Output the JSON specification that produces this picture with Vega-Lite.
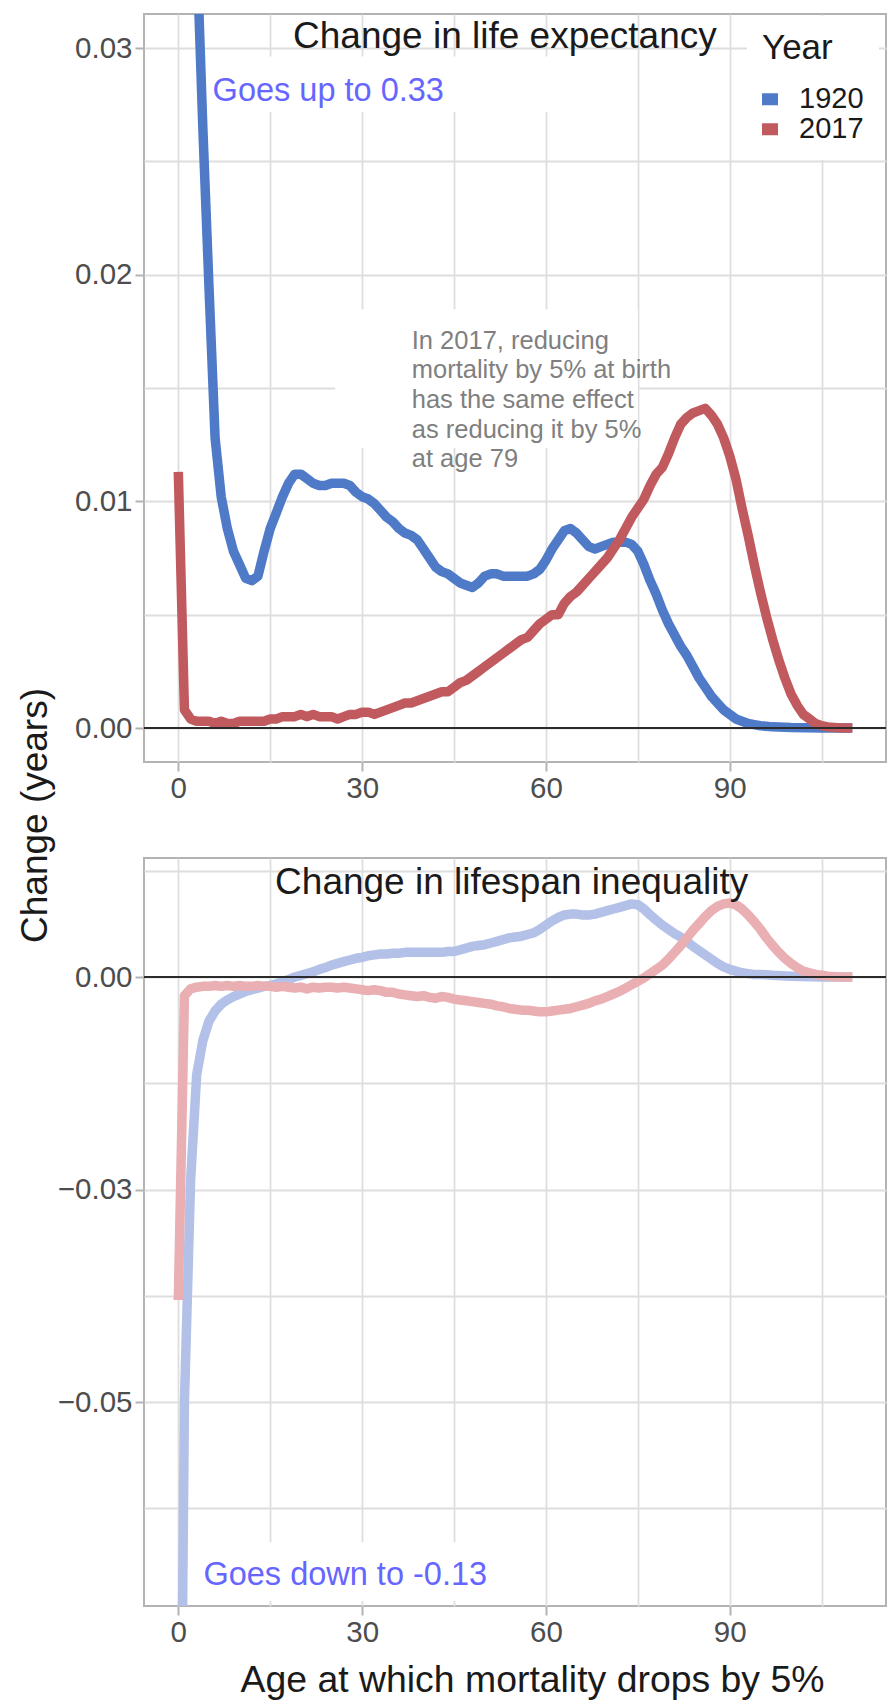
{
  "$schema": "https://vega.github.io/schema/vega-lite/v6.json",
  "background": "white",
  "padding": {"left": 15, "top": 13, "right": 3, "bottom": 4},
  "config": {
    "font": "Liberation Sans",
    "view": {"stroke": "#B3B3B3", "strokeWidth": 2},
    "axis": {
      "domain": false,
      "labelFont": "Liberation Sans",
      "labelFontSize": 29.5,
      "labelColor": "#4D4D4D",
      "tickColor": "#B3B3B3",
      "tickWidth": 2,
      "tickSize": 9,
      "gridColor": "#DEDEDE",
      "gridWidth": 1.8,
      "titleFont": "Liberation Sans",
      "titleFontWeight": "normal",
      "titleColor": "#1A1A1A",
      "titleFontSize": 37.4,
      "labelOverlap": false,
      "labelFlush": false
    }
  },
  "datasets": {
    "le": [
      {"year":"1920","age":0,"value":0.33},{"year":"1920","age":1,"value":0.1},{"year":"1920","age":2,"value":0.05},{"year":"1920","age":3,"value":0.0345},{"year":"1920","age":4,"value":0.0265},{"year":"1920","age":5,"value":0.0195},{"year":"1920","age":6,"value":0.0128},{"year":"1920","age":7,"value":0.0102},{"year":"1920","age":8,"value":0.0088},{"year":"1920","age":9,"value":0.0078},{"year":"1920","age":10,"value":0.0072},{"year":"1920","age":11,"value":0.0066},{"year":"1920","age":12,"value":0.0065},{"year":"1920","age":13,"value":0.0067},{"year":"1920","age":14,"value":0.0078},{"year":"1920","age":15,"value":0.0088},{"year":"1920","age":16,"value":0.0095},{"year":"1920","age":17,"value":0.0102},{"year":"1920","age":18,"value":0.0108},{"year":"1920","age":19,"value":0.0112},{"year":"1920","age":20,"value":0.0112},{"year":"1920","age":21,"value":0.011},{"year":"1920","age":22,"value":0.0108},{"year":"1920","age":23,"value":0.0107},{"year":"1920","age":24,"value":0.0107},{"year":"1920","age":25,"value":0.0108},{"year":"1920","age":26,"value":0.0108},{"year":"1920","age":27,"value":0.0108},{"year":"1920","age":28,"value":0.0107},{"year":"1920","age":29,"value":0.0104},{"year":"1920","age":30,"value":0.0102},{"year":"1920","age":31,"value":0.0101},{"year":"1920","age":32,"value":0.0099},{"year":"1920","age":33,"value":0.0096},{"year":"1920","age":34,"value":0.0093},{"year":"1920","age":35,"value":0.0091},{"year":"1920","age":36,"value":0.0088},{"year":"1920","age":37,"value":0.0086},{"year":"1920","age":38,"value":0.0085},{"year":"1920","age":39,"value":0.0083},{"year":"1920","age":40,"value":0.0079},{"year":"1920","age":41,"value":0.0075},{"year":"1920","age":42,"value":0.0071},{"year":"1920","age":43,"value":0.0069},{"year":"1920","age":44,"value":0.0068},{"year":"1920","age":45,"value":0.0066},{"year":"1920","age":46,"value":0.0064},{"year":"1920","age":47,"value":0.0063},{"year":"1920","age":48,"value":0.0062},{"year":"1920","age":49,"value":0.0064},{"year":"1920","age":50,"value":0.0067},{"year":"1920","age":51,"value":0.0068},{"year":"1920","age":52,"value":0.0068},{"year":"1920","age":53,"value":0.0067},{"year":"1920","age":54,"value":0.0067},{"year":"1920","age":55,"value":0.0067},{"year":"1920","age":56,"value":0.0067},{"year":"1920","age":57,"value":0.0067},{"year":"1920","age":58,"value":0.0068},{"year":"1920","age":59,"value":0.007},{"year":"1920","age":60,"value":0.0074},{"year":"1920","age":61,"value":0.0079},{"year":"1920","age":62,"value":0.0083},{"year":"1920","age":63,"value":0.0087},{"year":"1920","age":64,"value":0.0088},{"year":"1920","age":65,"value":0.0086},{"year":"1920","age":66,"value":0.0083},{"year":"1920","age":67,"value":0.008},{"year":"1920","age":68,"value":0.0079},{"year":"1920","age":69,"value":0.008},{"year":"1920","age":70,"value":0.0081},{"year":"1920","age":71,"value":0.0082},{"year":"1920","age":72,"value":0.0082},{"year":"1920","age":73,"value":0.0082},{"year":"1920","age":74,"value":0.0081},{"year":"1920","age":75,"value":0.0078},{"year":"1920","age":76,"value":0.0072},{"year":"1920","age":77,"value":0.0065},{"year":"1920","age":78,"value":0.0059},{"year":"1920","age":79,"value":0.0052},{"year":"1920","age":80,"value":0.0046},{"year":"1920","age":81,"value":0.0041},{"year":"1920","age":82,"value":0.0036},{"year":"1920","age":83,"value":0.0032},{"year":"1920","age":84,"value":0.0027},{"year":"1920","age":85,"value":0.0022},{"year":"1920","age":86,"value":0.0018},{"year":"1920","age":87,"value":0.0014},{"year":"1920","age":88,"value":0.0011},{"year":"1920","age":89,"value":0.0008},{"year":"1920","age":90,"value":0.0006},{"year":"1920","age":91,"value":0.0004},{"year":"1920","age":92,"value":0.0003},{"year":"1920","age":93,"value":0.0002},{"year":"1920","age":94,"value":0.00015},{"year":"1920","age":95,"value":0.0001},{"year":"1920","age":97,"value":0.00005},{"year":"1920","age":100,"value":0.00002},{"year":"1920","age":105,"value":0},{"year":"1920","age":110,"value":0},
      {"year":"2017","age":0,"value":0.0113},{"year":"2017","age":1,"value":0.0008},{"year":"2017","age":2,"value":0.0004},{"year":"2017","age":3,"value":0.0003},{"year":"2017","age":4,"value":0.0003},{"year":"2017","age":5,"value":0.0003},{"year":"2017","age":6,"value":0.0002},{"year":"2017","age":7,"value":0.0003},{"year":"2017","age":8,"value":0.0002},{"year":"2017","age":9,"value":0.0002},{"year":"2017","age":10,"value":0.0003},{"year":"2017","age":11,"value":0.0003},{"year":"2017","age":12,"value":0.0003},{"year":"2017","age":13,"value":0.0003},{"year":"2017","age":14,"value":0.0003},{"year":"2017","age":15,"value":0.0004},{"year":"2017","age":16,"value":0.0004},{"year":"2017","age":17,"value":0.0005},{"year":"2017","age":18,"value":0.0005},{"year":"2017","age":19,"value":0.0005},{"year":"2017","age":20,"value":0.0006},{"year":"2017","age":21,"value":0.0005},{"year":"2017","age":22,"value":0.0006},{"year":"2017","age":23,"value":0.0005},{"year":"2017","age":24,"value":0.0005},{"year":"2017","age":25,"value":0.0005},{"year":"2017","age":26,"value":0.0004},{"year":"2017","age":27,"value":0.0005},{"year":"2017","age":28,"value":0.0006},{"year":"2017","age":29,"value":0.0006},{"year":"2017","age":30,"value":0.0007},{"year":"2017","age":31,"value":0.0007},{"year":"2017","age":32,"value":0.0006},{"year":"2017","age":33,"value":0.0007},{"year":"2017","age":34,"value":0.0008},{"year":"2017","age":35,"value":0.0009},{"year":"2017","age":36,"value":0.001},{"year":"2017","age":37,"value":0.0011},{"year":"2017","age":38,"value":0.0011},{"year":"2017","age":39,"value":0.0012},{"year":"2017","age":40,"value":0.0013},{"year":"2017","age":41,"value":0.0014},{"year":"2017","age":42,"value":0.0015},{"year":"2017","age":43,"value":0.0016},{"year":"2017","age":44,"value":0.0016},{"year":"2017","age":45,"value":0.0018},{"year":"2017","age":46,"value":0.002},{"year":"2017","age":47,"value":0.0021},{"year":"2017","age":48,"value":0.0023},{"year":"2017","age":49,"value":0.0025},{"year":"2017","age":50,"value":0.0027},{"year":"2017","age":51,"value":0.0029},{"year":"2017","age":52,"value":0.0031},{"year":"2017","age":53,"value":0.0033},{"year":"2017","age":54,"value":0.0035},{"year":"2017","age":55,"value":0.0037},{"year":"2017","age":56,"value":0.0039},{"year":"2017","age":57,"value":0.004},{"year":"2017","age":58,"value":0.0043},{"year":"2017","age":59,"value":0.0046},{"year":"2017","age":60,"value":0.0048},{"year":"2017","age":61,"value":0.005},{"year":"2017","age":62,"value":0.005},{"year":"2017","age":63,"value":0.0055},{"year":"2017","age":64,"value":0.0058},{"year":"2017","age":65,"value":0.006},{"year":"2017","age":66,"value":0.0063},{"year":"2017","age":67,"value":0.0066},{"year":"2017","age":68,"value":0.0069},{"year":"2017","age":69,"value":0.0072},{"year":"2017","age":70,"value":0.0075},{"year":"2017","age":71,"value":0.0079},{"year":"2017","age":72,"value":0.0083},{"year":"2017","age":73,"value":0.0088},{"year":"2017","age":74,"value":0.0093},{"year":"2017","age":75,"value":0.0097},{"year":"2017","age":76,"value":0.0101},{"year":"2017","age":77,"value":0.0107},{"year":"2017","age":78,"value":0.0112},{"year":"2017","age":79,"value":0.0115},{"year":"2017","age":80,"value":0.0121},{"year":"2017","age":81,"value":0.0128},{"year":"2017","age":82,"value":0.0134},{"year":"2017","age":83,"value":0.0137},{"year":"2017","age":84,"value":0.0139},{"year":"2017","age":85,"value":0.014},{"year":"2017","age":86,"value":0.0141},{"year":"2017","age":87,"value":0.0138},{"year":"2017","age":88,"value":0.0134},{"year":"2017","age":89,"value":0.0128},{"year":"2017","age":90,"value":0.012},{"year":"2017","age":91,"value":0.011},{"year":"2017","age":92,"value":0.0097},{"year":"2017","age":93,"value":0.0085},{"year":"2017","age":94,"value":0.0072},{"year":"2017","age":95,"value":0.006},{"year":"2017","age":96,"value":0.0049},{"year":"2017","age":97,"value":0.0039},{"year":"2017","age":98,"value":0.003},{"year":"2017","age":99,"value":0.0022},{"year":"2017","age":100,"value":0.0015},{"year":"2017","age":101,"value":0.001},{"year":"2017","age":102,"value":0.0006},{"year":"2017","age":103,"value":0.0004},{"year":"2017","age":104,"value":0.0002},{"year":"2017","age":105,"value":0.0001},{"year":"2017","age":106,"value":0.00005},{"year":"2017","age":108,"value":0},{"year":"2017","age":110,"value":0}
    ],
    "ineq": [
      {"year":"1920","age":0,"value":-0.13},{"year":"1920","age":1,"value":-0.05},{"year":"1920","age":2,"value":-0.024},{"year":"1920","age":3,"value":-0.0115},{"year":"1920","age":4,"value":-0.0075},{"year":"1920","age":5,"value":-0.0052},{"year":"1920","age":6,"value":-0.004},{"year":"1920","age":7,"value":-0.0032},{"year":"1920","age":8,"value":-0.0027},{"year":"1920","age":9,"value":-0.0023},{"year":"1920","age":10,"value":-0.002},{"year":"1920","age":11,"value":-0.0017},{"year":"1920","age":12,"value":-0.0015},{"year":"1920","age":13,"value":-0.0013},{"year":"1920","age":14,"value":-0.0011},{"year":"1920","age":15,"value":-0.001},{"year":"1920","age":16,"value":-0.0008},{"year":"1920","age":17,"value":-0.0005},{"year":"1920","age":18,"value":-0.0003},{"year":"1920","age":19,"value":0},{"year":"1920","age":20,"value":0.0002},{"year":"1920","age":21,"value":0.0004},{"year":"1920","age":22,"value":0.0006},{"year":"1920","age":23,"value":0.0009},{"year":"1920","age":24,"value":0.0011},{"year":"1920","age":25,"value":0.0014},{"year":"1920","age":26,"value":0.0016},{"year":"1920","age":27,"value":0.0018},{"year":"1920","age":28,"value":0.002},{"year":"1920","age":29,"value":0.0022},{"year":"1920","age":30,"value":0.0023},{"year":"1920","age":31,"value":0.0025},{"year":"1920","age":32,"value":0.0026},{"year":"1920","age":33,"value":0.0027},{"year":"1920","age":34,"value":0.0027},{"year":"1920","age":35,"value":0.0028},{"year":"1920","age":36,"value":0.0028},{"year":"1920","age":37,"value":0.0029},{"year":"1920","age":38,"value":0.0029},{"year":"1920","age":39,"value":0.0029},{"year":"1920","age":40,"value":0.0029},{"year":"1920","age":41,"value":0.0029},{"year":"1920","age":42,"value":0.0029},{"year":"1920","age":43,"value":0.0029},{"year":"1920","age":44,"value":0.003},{"year":"1920","age":45,"value":0.003},{"year":"1920","age":46,"value":0.0032},{"year":"1920","age":47,"value":0.0034},{"year":"1920","age":48,"value":0.0036},{"year":"1920","age":49,"value":0.0037},{"year":"1920","age":50,"value":0.0038},{"year":"1920","age":51,"value":0.004},{"year":"1920","age":52,"value":0.0042},{"year":"1920","age":53,"value":0.0044},{"year":"1920","age":54,"value":0.0046},{"year":"1920","age":55,"value":0.0047},{"year":"1920","age":56,"value":0.0048},{"year":"1920","age":57,"value":0.005},{"year":"1920","age":58,"value":0.0052},{"year":"1920","age":59,"value":0.0056},{"year":"1920","age":60,"value":0.0061},{"year":"1920","age":61,"value":0.0066},{"year":"1920","age":62,"value":0.007},{"year":"1920","age":63,"value":0.0073},{"year":"1920","age":64,"value":0.0074},{"year":"1920","age":65,"value":0.0074},{"year":"1920","age":66,"value":0.0073},{"year":"1920","age":67,"value":0.0073},{"year":"1920","age":68,"value":0.0074},{"year":"1920","age":69,"value":0.0076},{"year":"1920","age":70,"value":0.0078},{"year":"1920","age":71,"value":0.008},{"year":"1920","age":72,"value":0.0082},{"year":"1920","age":73,"value":0.0084},{"year":"1920","age":74,"value":0.0086},{"year":"1920","age":75,"value":0.0085},{"year":"1920","age":76,"value":0.008},{"year":"1920","age":77,"value":0.0073},{"year":"1920","age":78,"value":0.0067},{"year":"1920","age":79,"value":0.0061},{"year":"1920","age":80,"value":0.0056},{"year":"1920","age":81,"value":0.0051},{"year":"1920","age":82,"value":0.0047},{"year":"1920","age":83,"value":0.0042},{"year":"1920","age":84,"value":0.0036},{"year":"1920","age":85,"value":0.0031},{"year":"1920","age":86,"value":0.0026},{"year":"1920","age":87,"value":0.0021},{"year":"1920","age":88,"value":0.0016},{"year":"1920","age":89,"value":0.0012},{"year":"1920","age":90,"value":0.0009},{"year":"1920","age":91,"value":0.0007},{"year":"1920","age":92,"value":0.0005},{"year":"1920","age":93,"value":0.0004},{"year":"1920","age":94,"value":0.0003},{"year":"1920","age":95,"value":0.0003},{"year":"1920","age":97,"value":0.0002},{"year":"1920","age":100,"value":0.0001},{"year":"1920","age":105,"value":0},{"year":"1920","age":110,"value":0},
      {"year":"2017","age":0,"value":-0.038},{"year":"2017","age":1,"value":-0.0022},{"year":"2017","age":2,"value":-0.0014},{"year":"2017","age":3,"value":-0.0012},{"year":"2017","age":4,"value":-0.0011},{"year":"2017","age":5,"value":-0.0011},{"year":"2017","age":6,"value":-0.001},{"year":"2017","age":7,"value":-0.0011},{"year":"2017","age":8,"value":-0.001},{"year":"2017","age":9,"value":-0.0011},{"year":"2017","age":10,"value":-0.001},{"year":"2017","age":11,"value":-0.0011},{"year":"2017","age":12,"value":-0.0011},{"year":"2017","age":13,"value":-0.001},{"year":"2017","age":14,"value":-0.0011},{"year":"2017","age":15,"value":-0.0011},{"year":"2017","age":16,"value":-0.0012},{"year":"2017","age":17,"value":-0.0011},{"year":"2017","age":18,"value":-0.0012},{"year":"2017","age":19,"value":-0.0013},{"year":"2017","age":20,"value":-0.0012},{"year":"2017","age":21,"value":-0.0014},{"year":"2017","age":22,"value":-0.0012},{"year":"2017","age":23,"value":-0.0013},{"year":"2017","age":24,"value":-0.0012},{"year":"2017","age":25,"value":-0.0012},{"year":"2017","age":26,"value":-0.0013},{"year":"2017","age":27,"value":-0.0012},{"year":"2017","age":28,"value":-0.0013},{"year":"2017","age":29,"value":-0.0014},{"year":"2017","age":30,"value":-0.0015},{"year":"2017","age":31,"value":-0.0016},{"year":"2017","age":32,"value":-0.0015},{"year":"2017","age":33,"value":-0.0016},{"year":"2017","age":34,"value":-0.0018},{"year":"2017","age":35,"value":-0.0018},{"year":"2017","age":36,"value":-0.002},{"year":"2017","age":37,"value":-0.0021},{"year":"2017","age":38,"value":-0.0022},{"year":"2017","age":39,"value":-0.0023},{"year":"2017","age":40,"value":-0.0022},{"year":"2017","age":41,"value":-0.0024},{"year":"2017","age":42,"value":-0.0025},{"year":"2017","age":43,"value":-0.0023},{"year":"2017","age":44,"value":-0.0024},{"year":"2017","age":45,"value":-0.0026},{"year":"2017","age":46,"value":-0.0027},{"year":"2017","age":47,"value":-0.0028},{"year":"2017","age":48,"value":-0.0029},{"year":"2017","age":49,"value":-0.003},{"year":"2017","age":50,"value":-0.0031},{"year":"2017","age":51,"value":-0.0032},{"year":"2017","age":52,"value":-0.0034},{"year":"2017","age":53,"value":-0.0035},{"year":"2017","age":54,"value":-0.0037},{"year":"2017","age":55,"value":-0.0038},{"year":"2017","age":56,"value":-0.0039},{"year":"2017","age":57,"value":-0.0039},{"year":"2017","age":58,"value":-0.004},{"year":"2017","age":59,"value":-0.0041},{"year":"2017","age":60,"value":-0.0041},{"year":"2017","age":61,"value":-0.004},{"year":"2017","age":62,"value":-0.0039},{"year":"2017","age":63,"value":-0.0038},{"year":"2017","age":64,"value":-0.0037},{"year":"2017","age":65,"value":-0.0035},{"year":"2017","age":66,"value":-0.0033},{"year":"2017","age":67,"value":-0.0031},{"year":"2017","age":68,"value":-0.0028},{"year":"2017","age":69,"value":-0.0026},{"year":"2017","age":70,"value":-0.0023},{"year":"2017","age":71,"value":-0.002},{"year":"2017","age":72,"value":-0.0017},{"year":"2017","age":73,"value":-0.0013},{"year":"2017","age":74,"value":-0.0009},{"year":"2017","age":75,"value":-0.0005},{"year":"2017","age":76,"value":-0.0001},{"year":"2017","age":77,"value":0.0004},{"year":"2017","age":78,"value":0.0009},{"year":"2017","age":79,"value":0.0014},{"year":"2017","age":80,"value":0.0021},{"year":"2017","age":81,"value":0.0029},{"year":"2017","age":82,"value":0.0037},{"year":"2017","age":83,"value":0.0046},{"year":"2017","age":84,"value":0.0055},{"year":"2017","age":85,"value":0.0063},{"year":"2017","age":86,"value":0.0071},{"year":"2017","age":87,"value":0.0078},{"year":"2017","age":88,"value":0.0083},{"year":"2017","age":89,"value":0.0086},{"year":"2017","age":90,"value":0.0087},{"year":"2017","age":91,"value":0.0085},{"year":"2017","age":92,"value":0.008},{"year":"2017","age":93,"value":0.0073},{"year":"2017","age":94,"value":0.0065},{"year":"2017","age":95,"value":0.0056},{"year":"2017","age":96,"value":0.0046},{"year":"2017","age":97,"value":0.0037},{"year":"2017","age":98,"value":0.0029},{"year":"2017","age":99,"value":0.0022},{"year":"2017","age":100,"value":0.0016},{"year":"2017","age":101,"value":0.0011},{"year":"2017","age":102,"value":0.0007},{"year":"2017","age":103,"value":0.0005},{"year":"2017","age":104,"value":0.0003},{"year":"2017","age":105,"value":0.0002},{"year":"2017","age":106,"value":0.0001},{"year":"2017","age":108,"value":0},{"year":"2017","age":110,"value":0}
    ]
  },
  "bounds": "flush",
  "spacing": 96,
  "resolve": {"scale": {"color": "independent"}},
  "vconcat": [
    {
      "width": 742,
      "height": 748,
      "encoding": {
        "x": {"field": "age", "type": "quantitative", "scale": {"domain": [-5.6, 115.5], "nice": false, "zero": false},
          "axis": {"values": [0, 15, 30, 45, 60, 75, 90, 105], "grid": true, "title": null, "labelPadding": 3,
            "labelExpr": "datum.value % 30 == 0 ? datum.label : ''",
            "tickOpacity": {"condition": {"test": "datum.value % 30 != 0", "value": 0}, "value": 1}}},
        "y": {"field": "value", "type": "quantitative", "scale": {"domain": [-0.0015, 0.0315], "nice": false, "zero": false},
          "axis": {"values": [0, 0.005, 0.01, 0.015, 0.02, 0.025, 0.03], "grid": true, "labelPadding": 3,
            "labelExpr": "abs(datum.value*100 - round(datum.value*100)) > 0.01 ? '' : format(datum.value, '.2f')",
            "tickOpacity": {"condition": {"test": "abs(datum.value*100 - round(datum.value*100)) > 0.01", "value": 0}, "value": 1},
            "title": "Change (years)", "titleFontSize": 37, "titleX": -109, "titleY": 801, "titleAngle": 270, "titleAlign": "center", "titleBaseline": "middle"}}
      },
      "layer": [
        {
          "data": {"values": [
            {"age": 4.5, "age2": 66, "value": 0.02719, "value2": 0.02962},
            {"age": 25.6, "age2": 75, "value": 0.01236, "value2": 0.01847}
          ]},
          "mark": {"type": "rect", "color": "white"},
          "encoding": {"x2": {"field": "age2"}, "y2": {"field": "value2"}}
        },
        {
          "data": {"name": "le"},
          "mark": {"type": "line", "strokeWidth": 9.5, "clip": true, "strokeJoin": "round", "strokeCap": "butt"},
          "encoding": {
            "color": {"field": "year", "type": "nominal",
              "scale": {"domain": ["1920", "2017"], "range": ["#4E7AC7", "#C05A5E"]},
              "legend": {"title": "Year", "orient": "none", "legendX": 603, "legendY": 2, "fillColor": "white", "padding": 15,
                "titleFontSize": 35, "titleFont": "Liberation Sans", "titleFontWeight": "normal", "titleColor": "#1A1A1A", "titlePadding": 19,
                "labelFontSize": 29, "labelFont": "Liberation Sans", "labelColor": "#1A1A1A", "labelOffset": 15, "symbolOffset": -7,
                "symbolType": "stroke", "symbolStrokeWidth": 12, "symbolSize": 289, "clipHeight": 28.5, "rowPadding": 0}}
          }
        },
        {
          "data": {"values": [{"age": -5.6, "age2": 115.5, "value": 0}]},
          "mark": {"type": "rule", "color": "#2B2B2B", "strokeWidth": 2},
          "encoding": {"x2": {"field": "age2"}}
        },
        {
          "data": {"values": [{"age": 53.3, "value": 0.0305, "label": "Change in life expectancy"}]},
          "mark": {"type": "text", "fontSize": 37, "color": "#1A1A1A", "align": "center", "baseline": "middle", "font": "Liberation Sans"},
          "encoding": {"text": {"field": "label"}}
        },
        {
          "data": {"values": [{"age": 5.6, "value": 0.0281, "label": "Goes up to 0.33"}]},
          "mark": {"type": "text", "fontSize": 32.5, "color": "#6666FF", "align": "left", "baseline": "middle", "font": "Liberation Sans"},
          "encoding": {"text": {"field": "label"}}
        },
        {
          "data": {"values": [{"age": 38.1, "value": 0.01674, "label": "In 2017, reducing\nmortality by 5% at birth\nhas the same effect\nas reducing it by 5%\nat age 79"}]},
          "mark": {"type": "text", "fontSize": 25.5, "lineHeight": 29.7, "lineBreak": "\n", "color": "#7F7F7F", "align": "left", "baseline": "alphabetic", "font": "Liberation Sans"},
          "encoding": {"text": {"field": "label"}}
        }
      ]
    },
    {
      "width": 742,
      "height": 748,
      "encoding": {
        "x": {"field": "age", "type": "quantitative", "scale": {"domain": [-5.6, 115.5], "nice": false, "zero": false},
          "axis": {"values": [0, 15, 30, 45, 60, 75, 90, 105], "grid": true, "labelPadding": 3,
            "labelExpr": "datum.value % 30 == 0 ? datum.label : ''",
            "tickOpacity": {"condition": {"test": "datum.value % 30 != 0", "value": 0}, "value": 1},
            "title": "Age at which mortality drops by 5%", "titleX": 388, "titleY": 74, "titleAlign": "center", "titleBaseline": "middle"}},
        "y": {"field": "value", "type": "quantitative", "scale": {"domain": [-0.074, 0.014], "nice": false, "zero": false},
          "axis": {"values": [0.0125, 0, -0.0125, -0.025, -0.0375, -0.05, -0.0625], "grid": true, "labelPadding": 3, "title": null,
            "labelExpr": "abs(datum.value*40 - round(datum.value*40)) > 0.01 ? '' : format(datum.value, '.2f')",
            "tickOpacity": {"condition": {"test": "abs(datum.value*40 - round(datum.value*40)) > 0.01", "value": 0}, "value": 1}}}
      },
      "layer": [
        {
          "data": {"values": [{"age": 2.8, "age2": 52, "value": -0.0734, "value2": -0.0665}]},
          "mark": {"type": "rect", "color": "white"},
          "encoding": {"x2": {"field": "age2"}, "y2": {"field": "value2"}}
        },
        {
          "data": {"name": "ineq"},
          "mark": {"type": "line", "strokeWidth": 9.5, "clip": true, "strokeJoin": "round", "strokeCap": "butt"},
          "encoding": {
            "color": {"field": "year", "type": "nominal",
              "scale": {"domain": ["1920", "2017"], "range": ["#B3C1E9", "#E9AFB3"]},
              "legend": null}
          }
        },
        {
          "data": {"values": [{"age": -5.6, "age2": 115.5, "value": 0}]},
          "mark": {"type": "rule", "color": "#2B2B2B", "strokeWidth": 2},
          "encoding": {"x2": {"field": "age2"}}
        },
        {
          "data": {"values": [{"age": 54.4, "value": 0.0111, "label": "Change in lifespan inequality"}]},
          "mark": {"type": "text", "fontSize": 37, "color": "#1A1A1A", "align": "center", "baseline": "middle", "font": "Liberation Sans"},
          "encoding": {"text": {"field": "label"}}
        },
        {
          "data": {"values": [{"age": 4.1, "value": -0.0703, "label": "Goes down to -0.13"}]},
          "mark": {"type": "text", "fontSize": 32.5, "color": "#6666FF", "align": "left", "baseline": "middle", "font": "Liberation Sans"},
          "encoding": {"text": {"field": "label"}}
        }
      ]
    }
  ]
}
